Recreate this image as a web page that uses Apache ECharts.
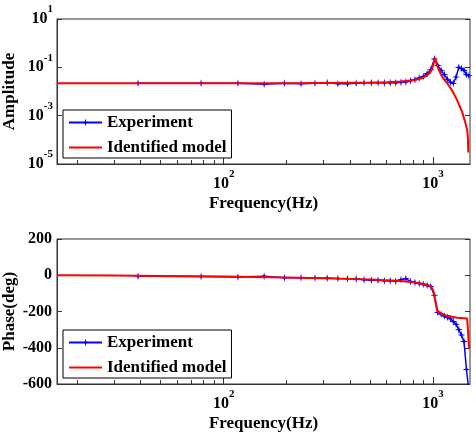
<!DOCTYPE html>
<html><head><meta charset="utf-8">
<script src="https://cdn.jsdelivr.net/npm/echarts@6/dist/echarts.min.js"></script>
<style>html,body{margin:0;padding:0;background:#fff}#c{width:476px;height:436px}</style>
</head><body><div id="c"></div>
<script>
// ---- data ----
const expFreq = [39, 78, 117, 156, 195, 234, 273, 312, 351, 390, 429, 468, 507, 546, 585, 624, 663, 702, 741, 780, 819, 858, 897, 936, 975, 1014, 1053, 1092, 1131, 1170, 1209, 1248, 1287, 1326, 1365, 1404, 1443, 1482];
const expAmp = [0.022, 0.022, 0.022, 0.020, 0.022, 0.021, 0.022, 0.023, 0.021, 0.021, 0.022, 0.023, 0.023, 0.023, 0.023, 0.023, 0.023, 0.024, 0.025, 0.028, 0.031, 0.036, 0.042, 0.055, 0.08, 0.22, 0.12, 0.075, 0.05, 0.032, 0.024, 0.022, 0.04, 0.1, 0.09, 0.075, 0.05, 0.045];
const expPhase = [-6, -7, -9, -6, -14, -14, -15, -16, -18, -19, -20, -25, -27, -28, -30, -31, -33, -25, -18, -35, -40, -45, -50, -55, -62, -110, -205, -215, -225, -232, -240, -255, -270, -300, -330, -365, -520, -640];

const modelAmpFreq = [16, 50, 100, 200, 300, 400, 500, 600, 700, 800, 850, 900, 940, 970, 990, 1005, 1015, 1022, 1030, 1040, 1060, 1090, 1117, 1167, 1233, 1303, 1377, 1423, 1454, 1466, 1472];
const modelAmp = [0.022, 0.022, 0.022, 0.022, 0.0225, 0.023, 0.0235, 0.024, 0.026, 0.029, 0.032, 0.038, 0.048, 0.065, 0.09, 0.14, 0.2, 0.25, 0.2, 0.13, 0.09, 0.05, 0.035, 0.022, 0.011, 0.0043, 0.0014, 0.00053, 0.00025, 0.00012, 0.00003];

const modelPhaseFreq = [16, 30, 50, 100, 200, 300, 400, 500, 600, 700, 800, 900, 950, 980, 1000, 1010, 1022, 1045, 1080, 1167, 1303, 1454, 1480, 1486];
const modelPhase = [0, -2, -4, -7, -12, -16, -20, -24, -28, -32, -38, -48, -56, -65, -83, -105, -138, -193, -210, -224, -234, -239, -245, -405];

const xMin = 16, xMax = 1500;
const xMajorTicks = [100, 1000];
const xMinorTicks = [20, 30, 40, 50, 60, 70, 80, 90, 200, 300, 400, 500, 600, 700, 800, 900];
const ampMin = 1e-5, ampMax = 10;
const ampTicks = [1e-5, 1e-3, 1e-1, 10];
const phaseMin = -600, phaseMax = 200, phaseStep = 200;

const seriesNames = ['Experiment', 'Identified model'];
const xName = 'Frequency(Hz)';
const yNames = ['Amplitude', 'Phase(deg)'];

// ---- styling ----
const FONT = 'Liberation Serif';
const AX = '#333';
const BLUE = '#0000ff', RED = '#ff0000';
const STAR = 'path://M0,-5 L1,-1 L5,0 L1,1 L0,5 L-1,1 L-5,0 L-1,-1 Z';

function zip(a, b) { return a.map((v, i) => [v, b[i]]); }
const rich = {
  b: { fontFamily: FONT, fontWeight: 'bold', fontSize: 16, color: '#000', lineHeight: 30 },
  s: { fontFamily: FONT, fontWeight: 'bold', fontSize: 11, color: '#000', lineHeight: 11, verticalAlign: 'top' }
};
function powLabel(v) { const e = Math.round(Math.log10(v)); return '{b|10}{s|' + e + '}'; }

const grids = [
  { left: 57, top: 19, width: 413, height: 145, show: true, borderColor: AX, borderWidth: 1, outerBoundsMode: 'none', containLabel: false },
  { left: 57, top: 239, width: 413, height: 145, show: true, borderColor: AX, borderWidth: 1, outerBoundsMode: 'none', containLabel: false }
];
const nameStyle = { fontFamily: FONT, fontWeight: 'bold', fontSize: 17, color: '#000' };

const xAxes = [], yAxes = [];
[0, 1].forEach(g => {
  xAxes.push({
    type: 'log', logBase: 10, gridIndex: g, min: xMin, max: xMax, position: 'bottom',
    axisLine: { show: true, onZero: false, lineStyle: { color: AX, width: 1 } },
    axisTick: { show: true, inside: true, length: 7, customValues: xMajorTicks, lineStyle: { color: AX } },
    axisLabel: { show: true, customValues: xMajorTicks, formatter: powLabel, rich: rich, margin: 5 },
    splitLine: { show: false },
    name: xName, nameLocation: 'middle', nameGap: 31, nameMoveOverlap: false,
    nameTextStyle: nameStyle
  });
  xAxes.push({
    type: 'log', logBase: 10, gridIndex: g, min: xMin, max: xMax, position: 'bottom',
    axisLine: { show: false, onZero: false },
    axisTick: { show: true, inside: true, length: 4, customValues: xMinorTicks, lineStyle: { color: AX } },
    axisLabel: { show: false }, splitLine: { show: false }
  });
});
// amplitude y axes
yAxes.push({
  type: 'log', logBase: 10, gridIndex: 0, min: ampMin, max: ampMax, position: 'left',
  axisLine: { show: true, onZero: false, lineStyle: { color: AX } },
  axisTick: { show: true, inside: true, length: 5, customValues: ampTicks, lineStyle: { color: AX } },
  axisLabel: { show: true, customValues: ampTicks, formatter: powLabel, rich: rich, margin: 4 },
  splitLine: { show: false },
  name: yNames[0], nameLocation: 'middle', nameGap: 39, nameRotate: 90, nameMoveOverlap: false,
  nameTextStyle: nameStyle
});
yAxes.push({
  type: 'log', logBase: 10, gridIndex: 0, min: ampMin, max: ampMax, position: 'right',
  axisLine: { show: false, onZero: false },
  axisTick: { show: true, inside: true, length: 5, customValues: ampTicks, lineStyle: { color: AX } },
  axisLabel: { show: false }, splitLine: { show: false }
});
// phase y axes
yAxes.push({
  type: 'value', gridIndex: 1, min: phaseMin, max: phaseMax, interval: phaseStep, position: 'left',
  axisLine: { show: true, onZero: false, lineStyle: { color: AX } },
  axisTick: { show: true, inside: true, length: 5, lineStyle: { color: AX } },
  axisLabel: { show: true, margin: 5, fontFamily: FONT, fontWeight: 'bold', fontSize: 16, color: '#000' },
  splitLine: { show: false },
  name: yNames[1], nameLocation: 'middle', nameGap: 39, nameRotate: 90, nameMoveOverlap: false,
  nameTextStyle: nameStyle
});
yAxes.push({
  type: 'value', gridIndex: 1, min: phaseMin, max: phaseMax, interval: phaseStep, position: 'right',
  axisLine: { show: false, onZero: false },
  axisTick: { show: true, inside: true, length: 5, lineStyle: { color: AX } },
  axisLabel: { show: false }, splitLine: { show: false }
});

function legendAt(top) {
  return {
    orient: 'vertical', left: 63, top: top, itemWidth: 33, itemHeight: 10, itemGap: 8,
    padding: [4, 5, 2, 5], borderColor: '#000', borderWidth: 1, backgroundColor: '#fff',
    selectedMode: false,
    textStyle: { fontFamily: FONT, fontWeight: 'bold', fontSize: 17, color: '#000' },
    data: [{ name: seriesNames[0] }, { name: seriesNames[1], itemStyle: { opacity: 0 } }]
  };
}

function expSeries(x, y, data) {
  return {
    name: seriesNames[0], type: 'line', xAxisIndex: x, yAxisIndex: y, data: data,
    symbol: STAR, symbolSize: 8, showAllSymbol: true,
    lineStyle: { color: BLUE, width: 1.5 }, itemStyle: { color: BLUE }, z: 2
  };
}
function modelSeries(x, y, data) {
  return {
    name: seriesNames[1], type: 'line', xAxisIndex: x, yAxisIndex: y, data: data,
    symbol: 'none', lineStyle: { color: RED, width: 2 }, itemStyle: { color: RED }, z: 3
  };
}

const chart = echarts.init(document.getElementById('c'), null, { renderer: 'canvas' });
chart.setOption({
  animation: false,
  backgroundColor: '#fff',
  grid: grids,
  xAxis: xAxes,
  yAxis: yAxes,
  legend: [legendAt(110), legendAt(330)],
  series: [
    expSeries(0, 0, zip(expFreq, expAmp)),
    modelSeries(0, 0, zip(modelAmpFreq, modelAmp)),
    expSeries(2, 2, zip(expFreq, expPhase)),
    modelSeries(2, 2, zip(modelPhaseFreq, modelPhase))
  ]
});
</script>
</body></html>
